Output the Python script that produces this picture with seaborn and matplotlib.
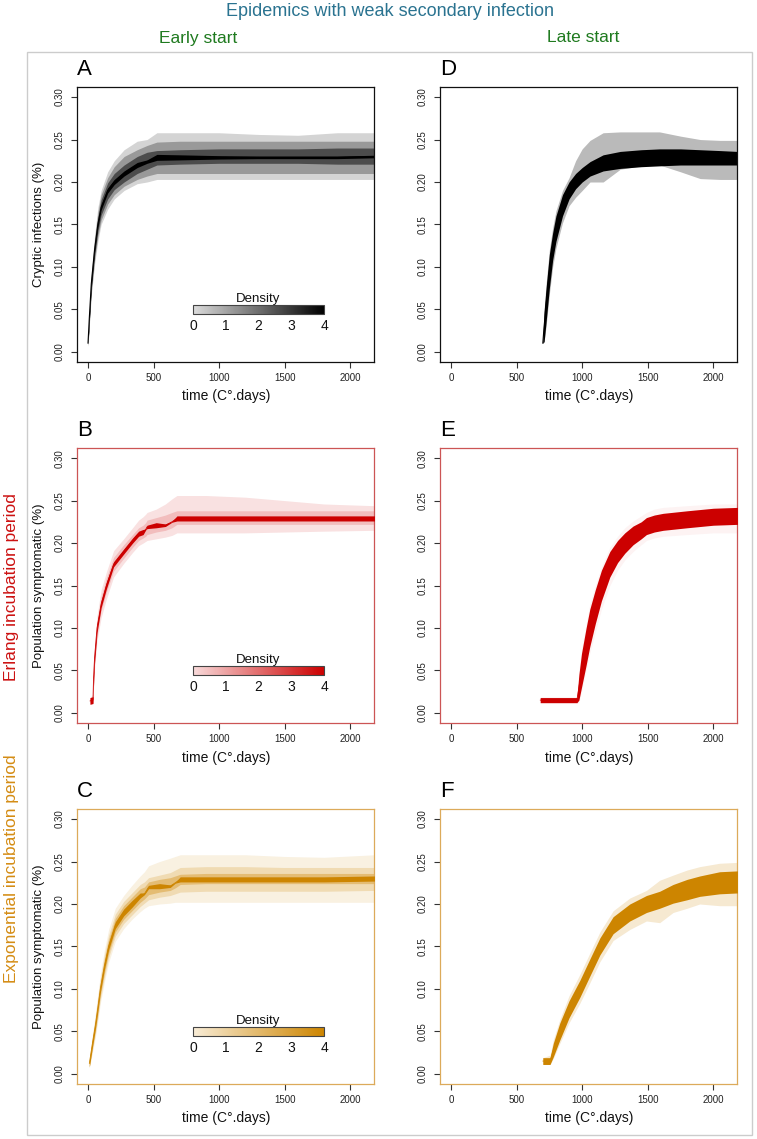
import numpy as np
import pandas as pd
import matplotlib
matplotlib.use("Agg")
import matplotlib.pyplot as plt
import seaborn as sns
from matplotlib.colors import LinearSegmentedColormap, Normalize
from matplotlib.cm import ScalarMappable
from matplotlib.patches import Rectangle

# ---- panel A : cryptic infections, early start ----
t_A = [0, 10, 25, 50, 75, 100, 150, 200, 275, 375, 450, 525, 700, 1000, 1300, 1600, 1900, 2184]
med_A = [.010, .040, .080, .120, .150, .170, .190, .200, .210, .220, .224, .229, .229, .229, .229, .229, .229, .230]
core_lo_A = [.009, .036, .076, .117, .147, .167, .187, .197, .207, .217, .222, .2255, .226, .227, .2275, .2275, .2275, .2285]
core_hi_A = [.011, .044, .084, .123, .153, .173, .193, .203, .213, .223, .226, .2325, .232, .231, .2305, .2305, .2305, .2315]
inn_lo_A = [.008, .036, .074, .113, .142, .161, .180, .191, .200, .210, .215, .220, .221, .222, .222, .222, .221, .221]
inn_hi_A = [.012, .044, .086, .127, .158, .179, .199, .210, .220, .230, .235, .237, .238, .239, .239, .239, .240, .240]
mid_lo_A = [.007, .033, .070, .108, .136, .155, .174, .185, .195, .203, .207, .210, .210, .210, .210, .210, .210, .210]
mid_hi_A = [.013, .047, .090, .132, .164, .185, .205, .218, .230, .238, .243, .247, .248, .248, .248, .248, .248, .248]
out_lo_A = [.006, .030, .066, .103, .130, .150, .168, .180, .190, .198, .200, .203, .203, .203, .203, .203, .203, .203]
out_hi_A = [.014, .050, .094, .137, .170, .190, .212, .225, .238, .248, .250, .258, .258, .258, .256, .255, .258, .258]

# ---- panel D : cryptic infections, late start ----
t_D = [700, 710, 725, 750, 775, 800, 850, 900, 950, 1000, 1060, 1160, 1290, 1450, 1590, 1750, 1900, 2050, 2184]
med_D = [.010, .030, .055, .095, .125, .145, .175, .190, .200, .207, .214, .222, .226, .228, .229, .229, .229, .229, .229]
core_lo_D = [.010, .012, .035, .075, .108, .130, .160, .180, .192, .200, .207, .213, .216, .218, .219, .220, .220, .220, .220]
core_hi_D = [.012, .048, .075, .115, .140, .160, .185, .200, .210, .217, .224, .232, .236, .238, .239, .239, .238, .237, .236]
out_lo_D = [.010, .012, .030, .068, .100, .122, .152, .172, .182, .190, .200, .200, .215, .219, .220, .212, .204, .203, .203]
out_hi_D = [.012, .050, .080, .120, .146, .166, .190, .205, .225, .239, .249, .258, .259, .259, .259, .254, .250, .249, .249]

# ---- panel B : symptomatic, Erlang, early start ----
t_B = [15, 38, 42, 50, 69, 100, 140, 195, 272, 340, 386, 420, 440, 450, 520, 590, 640, 678, 900, 1200, 1500, 1800, 2184]
med_B = [.014, .015, .040, .065, .100, .128, .150, .175, .190, .203, .211, .213, .216, .219, .221, .221, .225, .229, .229, .229, .229, .229, .229]
core_h_B = [.004, .004, .008, .006, .005, .004, .004, .003, .003, .003, .003, .003, .0005, .002, .003, .0015, .0005, .003, .003, .003, .003, .003, .003]
mid_lo_B = [.012, .012, .034, .058, .092, .120, .142, .167, .182, .195, .203, .206, .208, .210, .213, .215, .218, .222, .222, .222, .222, .222, .222]
mid_hi_B = [.017, .019, .048, .073, .108, .137, .159, .183, .198, .210, .218, .221, .224, .227, .230, .233, .236, .238, .238, .238, .238, .238, .238]
out_lo_B = [.011, .011, .028, .052, .085, .112, .134, .160, .176, .189, .197, .200, .202, .203, .205, .207, .209, .212, .212, .212, .213, .214, .215]
out_hi_B = [.018, .022, .054, .080, .115, .145, .166, .191, .205, .218, .227, .231, .234, .236, .240, .246, .252, .256, .256, .254, .250, .246, .244]

# ---- panel E : symptomatic, Erlang, late start ----
t_E = [680, 960, 975, 995, 1030, 1058, 1100, 1147, 1211, 1270, 1325, 1388, 1450, 1490, 1550, 1617, 1800, 2000, 2184]
med_E = [.015, .015, .030, .050, .078, .100, .125, .150, .175, .190, .200, .209, .215, .220, .223, .225, .228, .231, .232]
core_h_E = [.003, .003, .015, .020, .022, .022, .020, .018, .015, .013, .012, .011, .010, .010, .010, .010, .010, .010, .010]
out_lo_E = [.011, .011, .012, .025, .050, .070, .095, .122, .150, .168, .180, .190, .198, .203, .206, .208, .210, .212, .212]
out_hi_E = [.019, .019, .050, .075, .105, .128, .150, .172, .195, .208, .218, .226, .232, .236, .240, .242, .244, .246, .246]

# ---- panel C : symptomatic, exponential, early start ----
t_C = [10, 20, 35, 56, 75, 94, 125, 157, 208, 272, 335, 398, 430, 462, 545, 627, 665, 703, 900, 1200, 1500, 1800, 2184]
med_C = [.012, .022, .037, .057, .078, .100, .127, .150, .175, .190, .200, .210, .212, .220, .221, .221, .225, .229, .229, .229, .229, .229, .230]
core_h_C = [.004, .004, .004, .004, .004, .004, .004, .004, .004, .004, .004, .003, .001, .002, .003, .0015, .0005, .003, .003, .003, .003, .003, .003]
inn_lo_C = [.009, .018, .032, .051, .071, .093, .119, .142, .167, .182, .192, .202, .206, .211, .214, .216, .219, .223, .224, .224, .224, .224, .224]
inn_hi_C = [.015, .026, .042, .063, .085, .107, .135, .158, .183, .198, .208, .218, .220, .226, .229, .231, .233, .235, .236, .236, .236, .236, .236]
mid_lo_C = [.008, .016, .029, .047, .066, .088, .114, .137, .162, .177, .187, .197, .201, .205, .208, .210, .212, .214, .215, .215, .215, .215, .216]
mid_hi_C = [.016, .028, .045, .067, .090, .112, .140, .163, .188, .203, .213, .223, .226, .231, .234, .237, .240, .243, .244, .244, .243, .243, .243]
out_lo_C = [.007, .014, .026, .043, .062, .083, .108, .131, .156, .171, .182, .191, .195, .198, .200, .201, .202, .202, .202, .202, .202, .202, .202]
out_hi_C = [.017, .030, .048, .071, .094, .117, .146, .170, .195, .210, .222, .233, .238, .245, .250, .254, .256, .258, .258, .258, .256, .255, .258]

# ---- panel F : symptomatic, exponential, late start ----
t_F = [700, 755, 780, 830, 900, 982, 1058, 1135, 1236, 1363, 1490, 1591, 1693, 1800, 1896, 2048, 2184]
med_F = [.015, .015, .028, .050, .076, .100, .125, .150, .175, .190, .200, .205, .212, .217, .221, .225, .226]
core_h_F = [.004, .004, .008, .010, .010, .010, .010, .010, .010, .010, .010, .010, .011, .012, .012, .013, .013]
out_lo_F = [.011, .011, .018, .036, .060, .083, .107, .132, .157, .170, .180, .178, .190, .195, .200, .198, .198]
out_hi_F = [.019, .022, .040, .064, .092, .117, .142, .167, .192, .207, .216, .228, .234, .240, .244, .248, .249]

x_ticks = [0, 500, 1000, 1500, 2000]
y_ticks = [0.00, 0.05, 0.10, 0.15, 0.20, 0.25, 0.30]
density_ticks = [0, 1, 2, 3, 4]

BLACK, RED, ORANGE = "#000000", "#cc0000", "#cd8500"


def shade(color, f):
    cm = LinearSegmentedColormap.from_list("c", ["#ffffff", color])
    return cm(f)


def band(ax, t, lo, hi, color):
    ax.fill_between(t, lo, hi, color=color, lw=0, zorder=2)


def core(ax, t, med, h, color):
    med = np.asarray(med)
    h = np.asarray(h)
    ax.fill_between(t, med - h, med + h, color=color, lw=0, zorder=3)


sns.set_theme(style="white")
plt.rcParams["font.family"] = ["Liberation Sans", "DejaVu Sans"]
plt.rcParams["text.color"] = "black"
plt.rcParams["axes.labelcolor"] = "black"

fig = plt.figure(figsize=(7.57, 11.39), dpi=100)

W, H = 0.393, 0.2415
lefts = [0.1017, 0.5812]
bottoms = [0.6822, 0.3652, 0.0483]

axes = {}
for r, b in enumerate(bottoms):
    for c, l in enumerate(lefts):
        axes[(r, c)] = fig.add_axes([l, b, W, H])

# A
ax = axes[(0, 0)]
band(ax, t_A, out_lo_A, out_hi_A, shade(BLACK, 0.17))
band(ax, t_A, mid_lo_A, mid_hi_A, shade(BLACK, 0.40))
band(ax, t_A, inn_lo_A, inn_hi_A, shade(BLACK, 0.70))
band(ax, t_A, core_lo_A, core_hi_A, BLACK)
sns.lineplot(x=t_A, y=med_A, ax=ax, color=BLACK, lw=0.8, zorder=4)

# D
ax = axes[(0, 1)]
band(ax, t_D, out_lo_D, out_hi_D, shade(BLACK, 0.27))
band(ax, t_D, core_lo_D, core_hi_D, BLACK)
sns.lineplot(x=t_D, y=med_D, ax=ax, color=BLACK, lw=0.8, zorder=4)

# B
ax = axes[(1, 0)]
band(ax, t_B, out_lo_B, out_hi_B, shade(RED, 0.12))
band(ax, t_B, mid_lo_B, mid_hi_B, shade(RED, 0.26))
core(ax, t_B, med_B, core_h_B, RED)
sns.lineplot(x=t_B, y=med_B, ax=ax, color=RED, lw=0.6, zorder=4)

# E
ax = axes[(1, 1)]
band(ax, t_E, out_lo_E, out_hi_E, shade(RED, 0.05))
core(ax, t_E, med_E, core_h_E, RED)
sns.lineplot(x=t_E, y=med_E, ax=ax, color=RED, lw=0.6, zorder=4)

# C
ax = axes[(2, 0)]
band(ax, t_C, out_lo_C, out_hi_C, shade(ORANGE, 0.12))
band(ax, t_C, mid_lo_C, mid_hi_C, shade(ORANGE, 0.30))
band(ax, t_C, inn_lo_C, inn_hi_C, shade(ORANGE, 0.55))
core(ax, t_C, med_C, core_h_C, ORANGE)
sns.lineplot(x=t_C, y=med_C, ax=ax, color=ORANGE, lw=0.6, zorder=4)

# F
ax = axes[(2, 1)]
band(ax, t_F, out_lo_F, out_hi_F, shade(ORANGE, 0.18))
core(ax, t_F, med_F, core_h_F, ORANGE)
sns.lineplot(x=t_F, y=med_F, ax=ax, color=ORANGE, lw=0.6, zorder=4)

frame_colors = ["#111111", "#cc5555", "#dcaa5a"]
cmaps = [
    LinearSegmentedColormap.from_list("g", ["#dcdcdc", "#000000"]),
    LinearSegmentedColormap.from_list("r", ["#f8dada", RED]),
    LinearSegmentedColormap.from_list("o", ["#f8ecd6", ORANGE]),
]
letters = [["A", "D"], ["B", "E"], ["C", "F"]]
ylabels = ["Cryptic infections (%)", "Population symptomatic (%)", "Population symptomatic (%)"]

for (r, c), ax in axes.items():
    ax.set_xlim(-84, 2184)
    ax.set_ylim(-0.012, 0.312)
    ax.set_xticks(x_ticks)
    ax.set_yticks(y_ticks)
    ax.set_xticklabels([str(v) for v in x_ticks])
    ax.set_yticklabels([f"{v:.2f}" for v in y_ticks])
    ax.tick_params(axis="both", which="both", direction="out", length=4, width=0.8,
                   color="#333333", labelsize=7, labelcolor="#222222", pad=4,
                   bottom=True, left=True)
    ax.tick_params(axis="y", labelrotation=90, pad=5)
    for lab in ax.get_yticklabels():
        lab.set_va("center")
    for sp in ax.spines.values():
        sp.set_visible(True)
        sp.set_color(frame_colors[r])
        sp.set_linewidth(0.9)
    ax.set_facecolor("white")
    ax.set_xlabel("time (C°.days)", fontsize=10, color="#111111")
    ax.xaxis.set_label_coords(0.5, -0.1)
    if c == 0:
        ax.set_ylabel(ylabels[r], fontsize=9.5, color="#111111")
        ax.yaxis.set_label_coords(-0.108, 0.5)
        cax = ax.inset_axes([800, 0.044, 1000, 0.011], transform=ax.transData)
        cb = fig.colorbar(ScalarMappable(norm=Normalize(0, 4), cmap=cmaps[r]), cax=cax,
                          orientation="horizontal", ticks=density_ticks)
        cb.outline.set_edgecolor("#444444")
        cb.outline.set_linewidth(0.8)
        cax.tick_params(direction="in", length=3, width=0.6, color="#444444",
                        labelsize=10, labelcolor="#111111", pad=3)
        cax.set_title("Density", fontsize=9.5, pad=1.5, color="#111111")
    ax.text(0.0, 1.025, letters[r][c], transform=ax.transAxes, fontsize=16,
            ha="left", va="bottom", color="black")

# outer frame and headers
fig.add_artist(Rectangle((27 / 757, 1 - 1135 / 1139), 725 / 757, 1083 / 1139,
                         transform=fig.transFigure, fill=False, edgecolor="#cccccc", lw=1))
fig.text(390 / 757, 1 - 11 / 1139, "Epidemics with weak secondary infection",
         ha="center", va="center", fontsize=13, color="#2a7390")
fig.text(198 / 757, 1 - 38 / 1139, "Early start", ha="center", va="center",
         fontsize=12.5, color="#1f7a1f")
fig.text(583 / 757, 1 - 38 / 1139, "Late start", ha="center", va="center",
         fontsize=12.5, color="#1f7a1f")
fig.text(12 / 757, 1 - 587 / 1139, "Erlang incubation period", rotation=90,
         ha="center", va="center", fontsize=12.5, color="#cc1111")
fig.text(12 / 757, 1 - 869 / 1139, "Exponential incubation period", rotation=90,
         ha="center", va="center", fontsize=12.5, color="#d48c14")

fig.savefig("out.png", dpi=100, facecolor="white")
